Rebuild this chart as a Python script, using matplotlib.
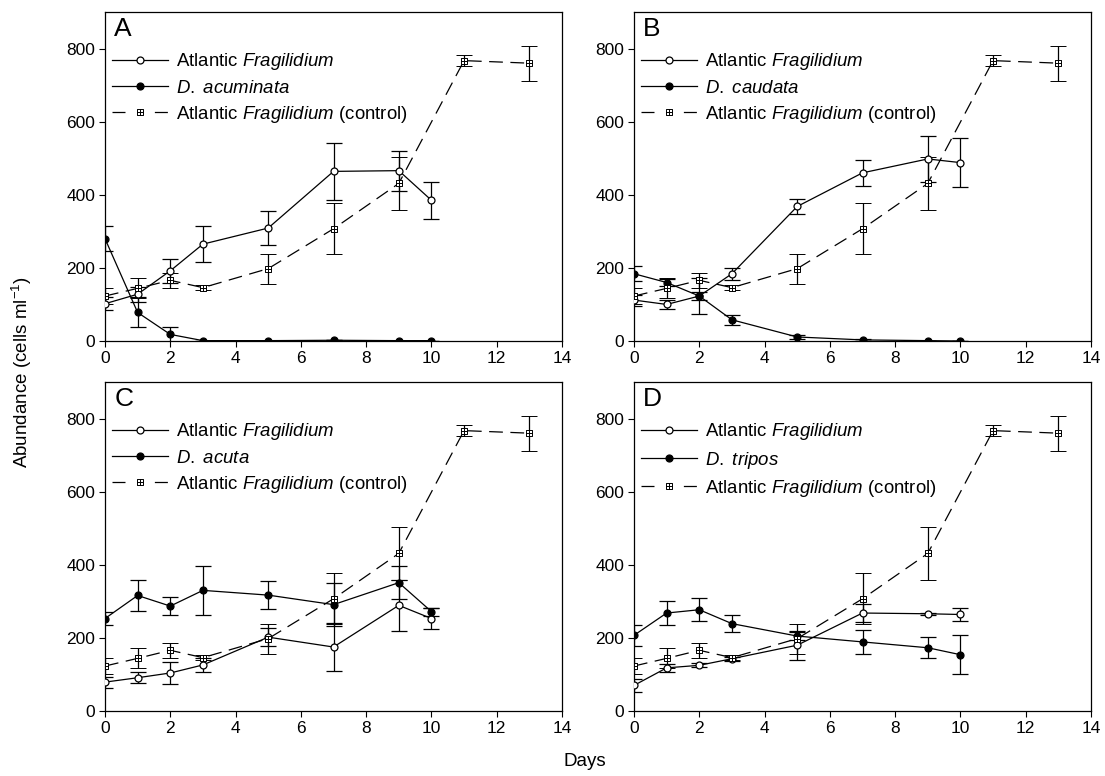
import numpy as np
import matplotlib
matplotlib.use('Agg')
import matplotlib.pyplot as plt
from matplotlib.path import Path
from matplotlib.lines import Line2D

plt.rcParams['font.family'] = ['Liberation Sans', 'DejaVu Sans']
plt.rcParams['mathtext.fontset'] = 'custom'
plt.rcParams['mathtext.rm'] = 'Liberation Sans'
plt.rcParams['mathtext.it'] = 'Liberation Sans:italic'

# sampling days
days = [0, 1, 2, 3, 5, 7, 9, 10]
ctrl_days = [0, 1, 2, 3, 5, 7, 9, 11, 13]

# Atlantic Fragilidium control (same in every panel)
ctrl = [123, 144, 166, 146, 198, 307, 431, 767, 760]
ctrl_err = [23, 27, 21, 6, 41, 70, 72, 15, 48]

# panel A - D. acuminata
a_frag = [102, 128, 192, 265, 309, 464, 466, 385]
a_frag_err = [18, 20, 32, 50, 46, 78, 55, 50]
a_prey = [280, 78, 18, 1, 1, 2, 1, 1]
a_prey_err = [35, 41, 20, 0, 0, 0, 0, 0]

# panel B - D. caudata
b_frag = [112, 100, 123, 184, 368, 460, 498, 488]
b_frag_err = [15, 12, 10, 16, 20, 35, 64, 68]
b_prey = [184, 160, 123, 58, 11, 3, 1, 0]
b_prey_err = [20, 10, 48, 13, 5, 2, 0, 0]

# panel C - D. acuta
c_frag = [79, 91, 104, 126, 202, 175, 289, 253]
c_frag_err = [15, 15, 30, 18, 25, 65, 70, 28]
c_prey = [253, 316, 287, 330, 317, 291, 351, 272]
c_prey_err = [17, 42, 25, 68, 39, 59, 45, 11]

# panel D - D. tripos
d_frag = [70, 118, 125, 143, 180, 268, 266, 264]
d_frag_err = [18, 10, 5, 5, 40, 25, 3, 18]
d_prey = [207, 268, 277, 239, 205, 189, 173, 154]
d_prey_err = [28, 33, 31, 24, 10, 33, 29, 54]

panels = [
    ('A', 'D. acuminata', a_frag, a_frag_err, a_prey, a_prey_err),
    ('B', 'D. caudata', b_frag, b_frag_err, b_prey, b_prey_err),
    ('C', 'D. acuta', c_frag, c_frag_err, c_prey, c_prey_err),
    ('D', 'D. tripos', d_frag, d_frag_err, d_prey, d_prey_err),
]

# square with a cross inside
sq_cross = Path([(-1, -1), (1, -1), (1, 1), (-1, 1), (-1, -1),
                 (0, -1), (0, 1), (-1, 0), (1, 0)],
                [Path.MOVETO, Path.LINETO, Path.LINETO, Path.LINETO, Path.CLOSEPOLY,
                 Path.MOVETO, Path.LINETO, Path.MOVETO, Path.LINETO])

W, H = 1105, 776
fig = plt.figure(figsize=(W / 100, H / 100), dpi=100)

boxes = [(105, 12), (634, 12), (105, 382), (634, 382)]
aw, ah = 457, 329

lw = 0.9
open_style = dict(marker='o', ms=5, mfc='white', mec='black', mew=lw, color='black', lw=lw)
fill_style = dict(marker='o', ms=5, mfc='black', mec='black', mew=lw, color='black', lw=lw)
ctrl_style = dict(marker=sq_cross, ms=5, mfc='white', mec='black', mew=0.7, color='black',
                  lw=lw, ls='--', dashes=(11, 6))

for (letter, prey_name, frag, frag_err, prey, prey_err), (px, py) in zip(panels, boxes):
    ax = fig.add_axes([px / W, 1 - (py + ah) / H, aw / W, ah / H])
    eb = dict(capsize=5.5, elinewidth=lw, capthick=lw, ecolor='black', zorder=3)
    ax.errorbar(days, frag, yerr=frag_err, **open_style, **eb)
    ax.errorbar(days, prey, yerr=prey_err, **fill_style, **eb)
    ax.errorbar(ctrl_days, ctrl, yerr=ctrl_err, **ctrl_style, **eb)
    ax.set_xlim(0, 14)
    ax.set_ylim(0, 900)
    ax.set_xticks(np.arange(0, 15, 2))
    ax.set_yticks(np.arange(0, 801, 200))
    ax.tick_params(direction='out', length=4, width=0.8, labelsize=12.5, pad=3)
    for s in ax.spines.values():
        s.set_linewidth(0.9)
    ax.text(0.02, 0.985, letter, transform=ax.transAxes, fontsize=19, va='top', ha='left')

    leg_ctrl = dict(ctrl_style, dashes=(10.4, 23.5))
    handles = [Line2D([], [], **open_style), Line2D([], [], **fill_style),
               Line2D([], [], **leg_ctrl)]
    labels = ['Atlantic $\\it{Fragilidium}$',
              '$\\it{' + prey_name.replace(' ', '\\ ') + '}$',
              'Atlantic $\\it{Fragilidium}$ (control)']
    ax.legend(handles, labels, loc='upper left', bbox_to_anchor=(0.015, 0.88),
              frameon=False, fontsize=13.4, handlelength=3.0, handletextpad=0.45,
              labelspacing=0.38, borderaxespad=0, borderpad=0)

fig.text(22 / W, 1 - 372 / H, 'Abundance (cells ml$^{-1}$)', rotation=90, va='center',
         ha='center', fontsize=13.5)
fig.text(585 / W, 1 - 762 / H, 'Days', ha='center', va='center', fontsize=13.5)

fig.savefig('out.png', dpi=100)
